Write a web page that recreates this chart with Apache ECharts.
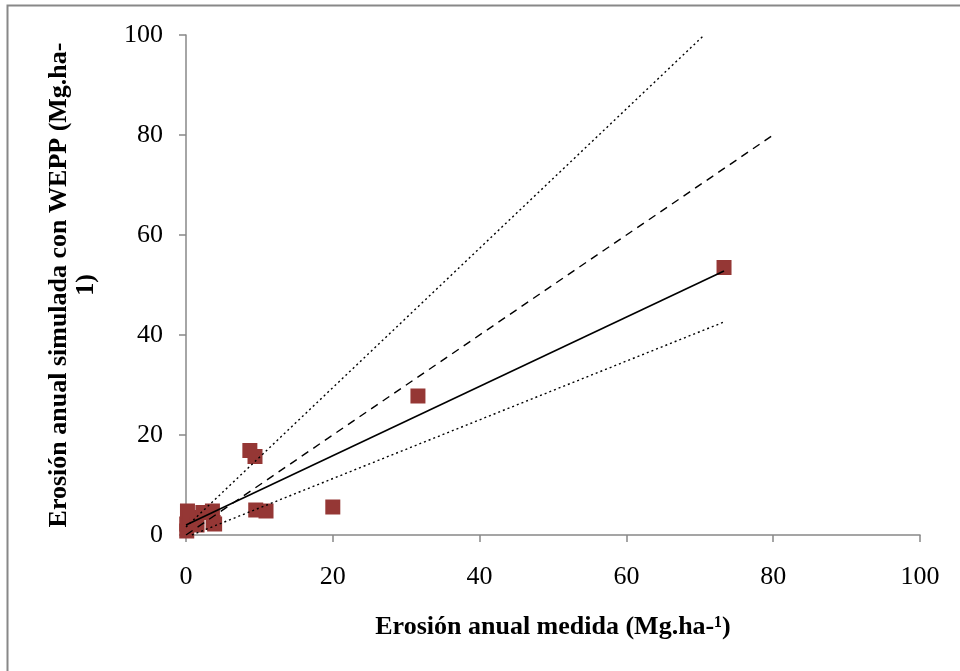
<!DOCTYPE html>
<html>
<head>
<meta charset="utf-8">
<script src="https://cdn.jsdelivr.net/npm/echarts@6/dist/echarts.min.js"></script>
<style>
html, body { margin: 0; padding: 0; background: #fff; }
#chart { width: 960px; height: 671px; }
</style>
</head>
<body>
<div id="chart"></div>
<script>
// erosion medida (x) vs simulada con WEPP (y), Mg/ha
var medida   = [0.1, 0.1, 0.2, 0.5, 1.5, 2.3, 3.6, 3.7, 3.9, 8.7, 9.4, 9.5, 10.9, 20.0, 31.6, 73.3];
var simulada = [0.8, 2.2, 4.8, 3.5, 2.0, 4.5, 4.8, 2.5, 2.2, 16.9, 15.7, 5.0, 4.8, 5.6, 27.8, 53.5];

// linea 1:1, regresion y limites de confianza (extremos)
var lineaIdeal   = [[0, 0], [80, 80]];
var regresion    = [[0, 2.0], [73.3, 52.8]];
var limiteSup    = [[0, 1.6], [70.6, 100]];
var limiteInf    = [[0.8, 0], [73.3, 42.6]];

var ticks = [0, 20, 40, 60, 80, 100];

var puntos = medida.map(function (v, i) { return [v, simulada[i]]; });

var chart = echarts.init(document.getElementById('chart'));
var fuente = 'Liberation Serif, Times New Roman, serif';

function linea(datos, tipo) {
    return {
        type: 'line',
        data: datos,
        symbol: 'none',
        silent: true,
        z: 3,
        lineStyle: { color: '#000', width: tipo === 'solid' ? 1.6 : 1.4, type: tipo }
    };
}

chart.setOption({
    animation: false,
    backgroundColor: '#fff',
    textStyle: { fontFamily: fuente },
    graphic: [{
        type: 'rect',
        shape: { x: 7.5, y: 5.5, width: 1000, height: 1000 },
        style: { fill: 'none', stroke: '#888', lineWidth: 2 }
    }],
    grid: { left: 186, right: 40, top: 35, bottom: 136 },
    xAxis: {
        type: 'value',
        min: ticks[0], max: ticks[ticks.length - 1], interval: 20,
        name: 'Erosión anual medida (Mg.ha-¹)',
        nameLocation: 'middle',
        nameGap: 79,
        nameTextStyle: { fontFamily: fuente, fontSize: 26, fontWeight: 'bold', color: '#000' },
        axisLine: { lineStyle: { color: '#888', width: 1.5 } },
        axisTick: { show: true, length: 7, lineStyle: { color: '#888', width: 1.5 } },
        axisLabel: { fontFamily: fuente, fontSize: 26, color: '#000', margin: 29 },
        splitLine: { show: false }
    },
    yAxis: {
        type: 'value',
        min: ticks[0], max: ticks[ticks.length - 1], interval: 20,
        name: 'Erosión anual simulada con WEPP (Mg.ha-\n1)',
        nameLocation: 'middle',
        nameRotate: 90,
        nameGap: 86,
        nameTextStyle: { fontFamily: fuente, fontSize: 26, fontWeight: 'bold', color: '#000', lineHeight: 27, align: 'center' },
        axisLine: { show: true, lineStyle: { color: '#888', width: 1.5 } },
        axisTick: { show: true, length: 7, lineStyle: { color: '#888', width: 1.5 } },
        axisLabel: { fontFamily: fuente, fontSize: 26, color: '#000', margin: 23 },
        splitLine: { show: false }
    },
    series: [
        {
            type: 'scatter',
            data: puntos,
            symbol: 'rect',
            symbolSize: 15,
            z: 2,
            itemStyle: { color: '#953735', opacity: 1 }
        },
        linea(limiteSup, [2, 3]),
        linea(lineaIdeal, [8, 6]),
        linea(regresion, 'solid'),
        linea(limiteInf, [2, 3])
    ]
});
</script>
</body>
</html>
